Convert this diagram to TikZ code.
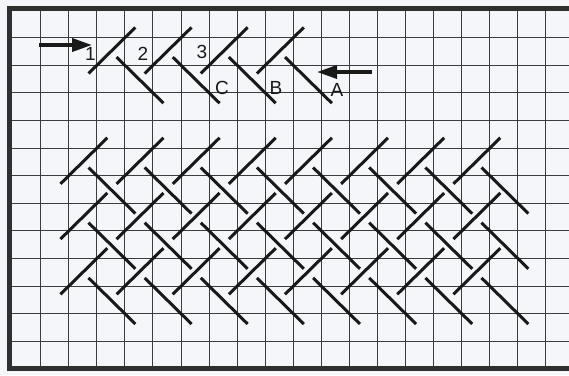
\documentclass[tikz,border=0pt]{standalone}
\usepackage{fontspec}
\setmainfont{Liberation Sans}
\usetikzlibrary{arrows.meta}
\definecolor{paper}{RGB}{244,246,250}
\definecolor{ink}{RGB}{25,25,25}
\definecolor{gridink}{RGB}{60,60,64}
\tikzset{
  gridline/.style={draw=gridink, line width=1pt},
  frameline/.style={draw=ink!90, line width=5pt, line join=miter},
  stitch/.style={draw=ink, line width=3pt, shorten <=8pt, shorten >=5pt},
  flow/.style={draw=ink, line width=3.6pt, -{Triangle[length=20pt,width=13pt]}},
  lab/.style={inner sep=0pt, font=\fontsize{19}{21}\selectfont, text=ink}
}
\begin{document}
\begin{tikzpicture}[x=1pt,y=-1pt]
\useasboundingbox (0,0) rectangle (569,375);
\fill[paper] (0,0) rectangle (569,375);
% grid
\foreach \i in {0,...,18} \draw[gridline] ({floor(40.7+28.07*\i)+0.5},9) -- ({floor(40.7+28.07*\i)+0.5},368.5);
\foreach \j in {0,...,11} \draw[gridline] (9.5,{floor(37.7+27.6*\j)+0.5}) -- (569,{floor(37.7+27.6*\j)+0.5});
% frame
\draw[frameline] (569,8.5) -- (9.5,8.5) -- (9.5,368.5) -- (569,368.5);
% stitches in hole coordinates
\begin{scope}[shift={(26.665,23.9)}, x=28.07pt, y=-27.6pt]
  % demonstration row
  \foreach \k in {0,...,3} {
    \draw[stitch] ({2+2*\k},2) -- ({4+2*\k},0);
    \draw[stitch] ({3+2*\k},1) -- ({5+2*\k},3);
  }
  % main pattern
  \foreach \r in {0,1,2} {
    \foreach \k in {0,...,7} {
      \draw[stitch] ({1+2*\k},{6+2*\r}) -- ({3+2*\k},{4+2*\r});
      \draw[stitch] ({2+2*\k},{5+2*\r}) -- ({4+2*\k},{7+2*\r});
    }
  }
\end{scope}
% labels
\node[lab] (n1) at (90.5,54) {1};
\node[lab] (n2) at (143,54) {2};
\node[lab] (n3) at (202,52) {3};
\node[lab] (nC) at (222,88) {C};
\node[lab] (nB) at (276,88) {B};
\node[lab] (nA) at (337,90) {A};
% arrows
\coordinate (r0) at (39,45);
\coordinate (r1) at (92,45);
\coordinate (l0) at (372,72);
\coordinate (l1) at (317,72);
\draw[flow] (r0) -- (r1);
\draw[flow] (l0) -- (l1);
\end{tikzpicture}
\end{document}
